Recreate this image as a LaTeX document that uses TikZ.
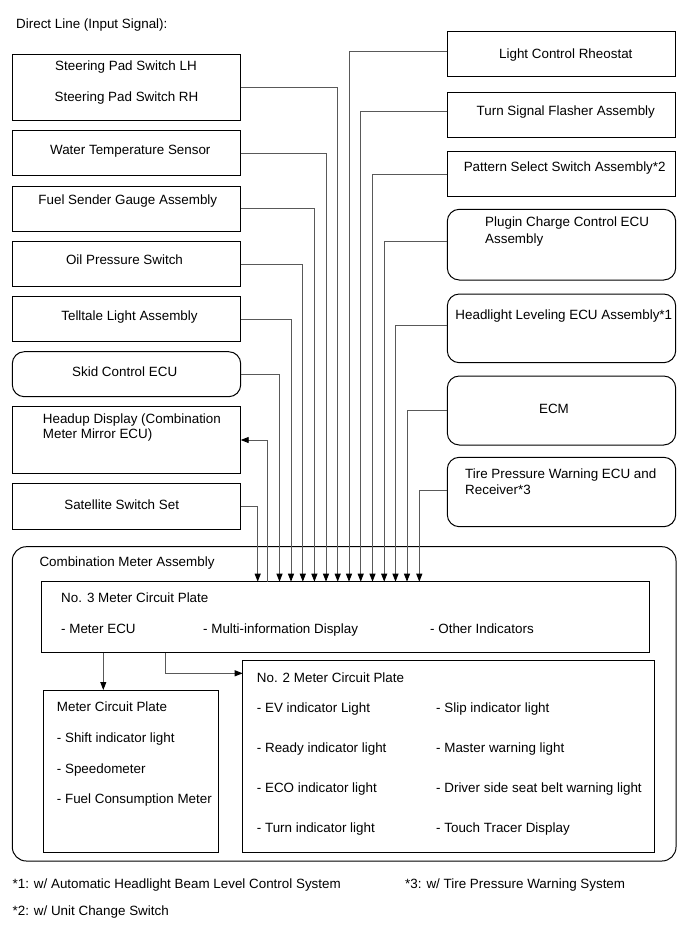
\documentclass[tikz,border=0pt]{standalone}
\usepackage{fontspec}
\setmainfont{Liberation Sans}
\usetikzlibrary{arrows.meta}
\begin{document}
\begin{tikzpicture}[x=1pt,y=-1pt,
  bx/.style={draw=black, line width=1pt, anchor=north west, inner sep=0pt, outer sep=0pt},
  rbx/.style={bx, rounded corners=12pt},
  conn/.style={draw=black!65, line width=0.9pt},
  arr/.style={conn, -{Triangle[length=8pt,width=6pt,color=black]}},
  txt/.style={anchor=base west, inner sep=0pt, font=\fontsize{13.4}{16}\selectfont},
  ctxt/.style={anchor=base, inner sep=0pt, font=\fontsize{13.4}{16}\selectfont}]
\useasboundingbox (0,0) rectangle (690,952);

\node[txt] (title) at (16,28.1) {Direct Line (Input Signal):};

% left column
\node[bx, minimum width=228.4pt, minimum height=66.4pt] (steer) at (12.3,54.3) {};
\node[bx, minimum width=228.4pt, minimum height=45pt] (water) at (12.3,131) {};
\node[bx, minimum width=228.4pt, minimum height=45.7pt] (fuel) at (12.3,186) {};
\node[bx, minimum width=228.4pt, minimum height=45pt] (oil) at (12.3,241.7) {};
\node[bx, minimum width=228.4pt, minimum height=45pt] (tell) at (12.3,296.7) {};
\node[rbx, minimum width=228.4pt, minimum height=45pt] (skid) at (12.3,351.7) {};
\node[bx, minimum width=228.4pt, minimum height=66.6pt] (head) at (12.3,406.7) {};
\node[bx, minimum width=228.4pt, minimum height=45.7pt] (sat) at (12.3,483.3) {};

\node[ctxt] (tsteer1) at (126,70.5) {Steering Pad Switch LH};
\node[ctxt] (tsteer2) at (126.5,101.5) {Steering Pad Switch RH};
\node[ctxt] (twater) at (130.3,154.8) {Water Temperature Sensor};
\node[ctxt] (tfuel) at (127.8,204.8) {Fuel Sender Gauge Assembly};
\node[ctxt] (toil) at (124.5,264.8) {Oil Pressure Switch};
\node[ctxt] (ttell) at (129.5,320.5) {Telltale Light Assembly};
\node[ctxt] (tskid) at (124.7,376.5) {Skid Control ECU};
\node[txt] (thead1) at (42.7,423.1) {Headup Display (Combination};
\node[txt] (thead2) at (42.7,438.1) {Meter Mirror ECU)};
\node[ctxt] (tsat) at (121.7,509.8) {Satellite Switch Set};

% right column
\node[bx, minimum width=228.4pt, minimum height=45pt] (lcr) at (447.3,31.7) {};
\node[bx, minimum width=228.4pt, minimum height=44.6pt] (tsf) at (447.3,92.7) {};
\node[bx, minimum width=228.4pt, minimum height=45pt] (pss) at (447.3,151.7) {};
\node[rbx, minimum width=228.4pt, minimum height=70.7pt] (pcc) at (447.3,209.3) {};
\node[rbx, minimum width=228.4pt, minimum height=68.7pt] (hle) at (447.3,294) {};
\node[rbx, minimum width=228.4pt, minimum height=69pt] (ecm) at (447.3,376) {};
\node[rbx, minimum width=228.4pt, minimum height=69.4pt] (tpw) at (447.3,457.3) {};

\node[ctxt] (tlcr) at (565.8,58.1) {Light Control Rheostat};
\node[ctxt] (ttsf) at (565.8,115.5) {Turn Signal Flasher Assembly};
\node[ctxt] (tpss) at (564.7,171.5) {Pattern Select Switch Assembly*2};
\node[txt] (tpcc1) at (485,226.5) {Plugin Charge Control ECU};
\node[txt] (tpcc2) at (485,243.1) {Assembly};
\node[ctxt] (thle) at (563.8,319.8) {Headlight Leveling ECU Assembly*1};
\node[ctxt] (tecm) at (554,413.1) {ECM};
\node[txt] (ttpw1) at (465,478.1) {Tire Pressure Warning ECU and};
\node[txt] (ttpw2) at (465,494.8) {Receiver*3};

% combination meter
\node[bx, rounded corners=14pt, minimum width=663.7pt, minimum height=314.3pt] (comb) at (12.3,546.7) {};
\node[txt] (tcomb) at (39.3,566.5) {Combination Meter Assembly};
\node[bx, minimum width=607.6pt, minimum height=71pt] (no3) at (41.7,581.7) {};
\node[txt] (tno3) at (61,602.1) {No. 3 Meter Circuit Plate};
\node[txt] (tno3a) at (61,633.1) {- Meter ECU};
\node[txt] (tno3b) at (203,633.1) {- Multi-information Display};
\node[txt] (tno3c) at (430,633.1) {- Other Indicators};

\node[bx, minimum width=175pt, minimum height=162.7pt] (mcp) at (43.3,690) {};
\node[txt] (tmcp) at (56.7,711.5) {Meter Circuit Plate};
\node[txt] (tmcp1) at (56.7,742.5) {- Shift indicator light};
\node[txt] (tmcp2) at (56.7,773.1) {- Speedometer};
\node[txt] (tmcp3) at (56.7,803.1) {- Fuel Consumption Meter};

\node[bx, minimum width=411.3pt, minimum height=191.6pt] (no2) at (242.7,660.7) {};
\node[txt] (tno2) at (256.7,682.5) {No. 2 Meter Circuit Plate};
\node[txt] (tno2a) at (256.7,712.5) {- EV indicator Light};
\node[txt] (tno2b) at (256.7,752.5) {- Ready indicator light};
\node[txt] (tno2c) at (256.7,792.1) {- ECO indicator light};
\node[txt] (tno2d) at (256.7,832.1) {- Turn indicator light};
\node[txt] (tno2e) at (436,712.5) {- Slip indicator light};
\node[txt] (tno2f) at (436,752.5) {- Master warning light};
\node[txt] (tno2g) at (436,792.1) {- Driver side seat belt warning light};
\node[txt] (tno2h) at (436,832.1) {- Touch Tracer Display};

% footnotes
\node[txt] (fn1) at (12.4,888) {*1: w/ Automatic Headlight Beam Level Control System};
\node[txt] (fn3) at (405,888) {*3: w/ Tire Pressure Warning System};
\node[txt] (fn2) at (12.4,915) {*2: w/ Unit Change Switch};

% connectors left
\draw[arr] (sat.east) -| (257.7,0 |- no3.north);
\draw[arr] (267.7,0 |- no3.north) |- (head.east);
\draw[arr] (skid.east) -| (279.5,0 |- no3.north);
\draw[arr] (tell.east) -| (291,0 |- no3.north);
\draw[arr] (oil.east) -| (302.8,0 |- no3.north);
\draw[arr] (fuel.east) -| (314.4,0 |- no3.north);
\draw[arr] (water.east) -| (326,0 |- no3.north);
\draw[arr] (steer.east) -| (337.7,0 |- no3.north);
% connectors right
\draw[arr] ([yshift=2.5pt]lcr.west) -| (349,0 |- no3.north);
\draw[arr] ([yshift=3.3pt]tsf.west) -| (360.7,0 |- no3.north);
\draw[arr] (pss.west) -| (372.5,0 |- no3.north);
\draw[arr] ([yshift=3pt]pcc.west) -| (384.2,0 |- no3.north);
\draw[arr] ([yshift=2.6pt]hle.west) -| (395.5,0 |- no3.north);
\draw[arr] (ecm.west) -| (407,0 |- no3.north);
\draw[arr] ([yshift=2pt]tpw.west) -| (419.3,0 |- no3.north);

% inside
\draw[arr] (103.3,0 |- no3.south) -- (103.3,0 |- mcp.north);
\draw[arr] (165.7,0 |- no3.south) |- (no2.west |- 0,673.3);
\end{tikzpicture}
\end{document}
